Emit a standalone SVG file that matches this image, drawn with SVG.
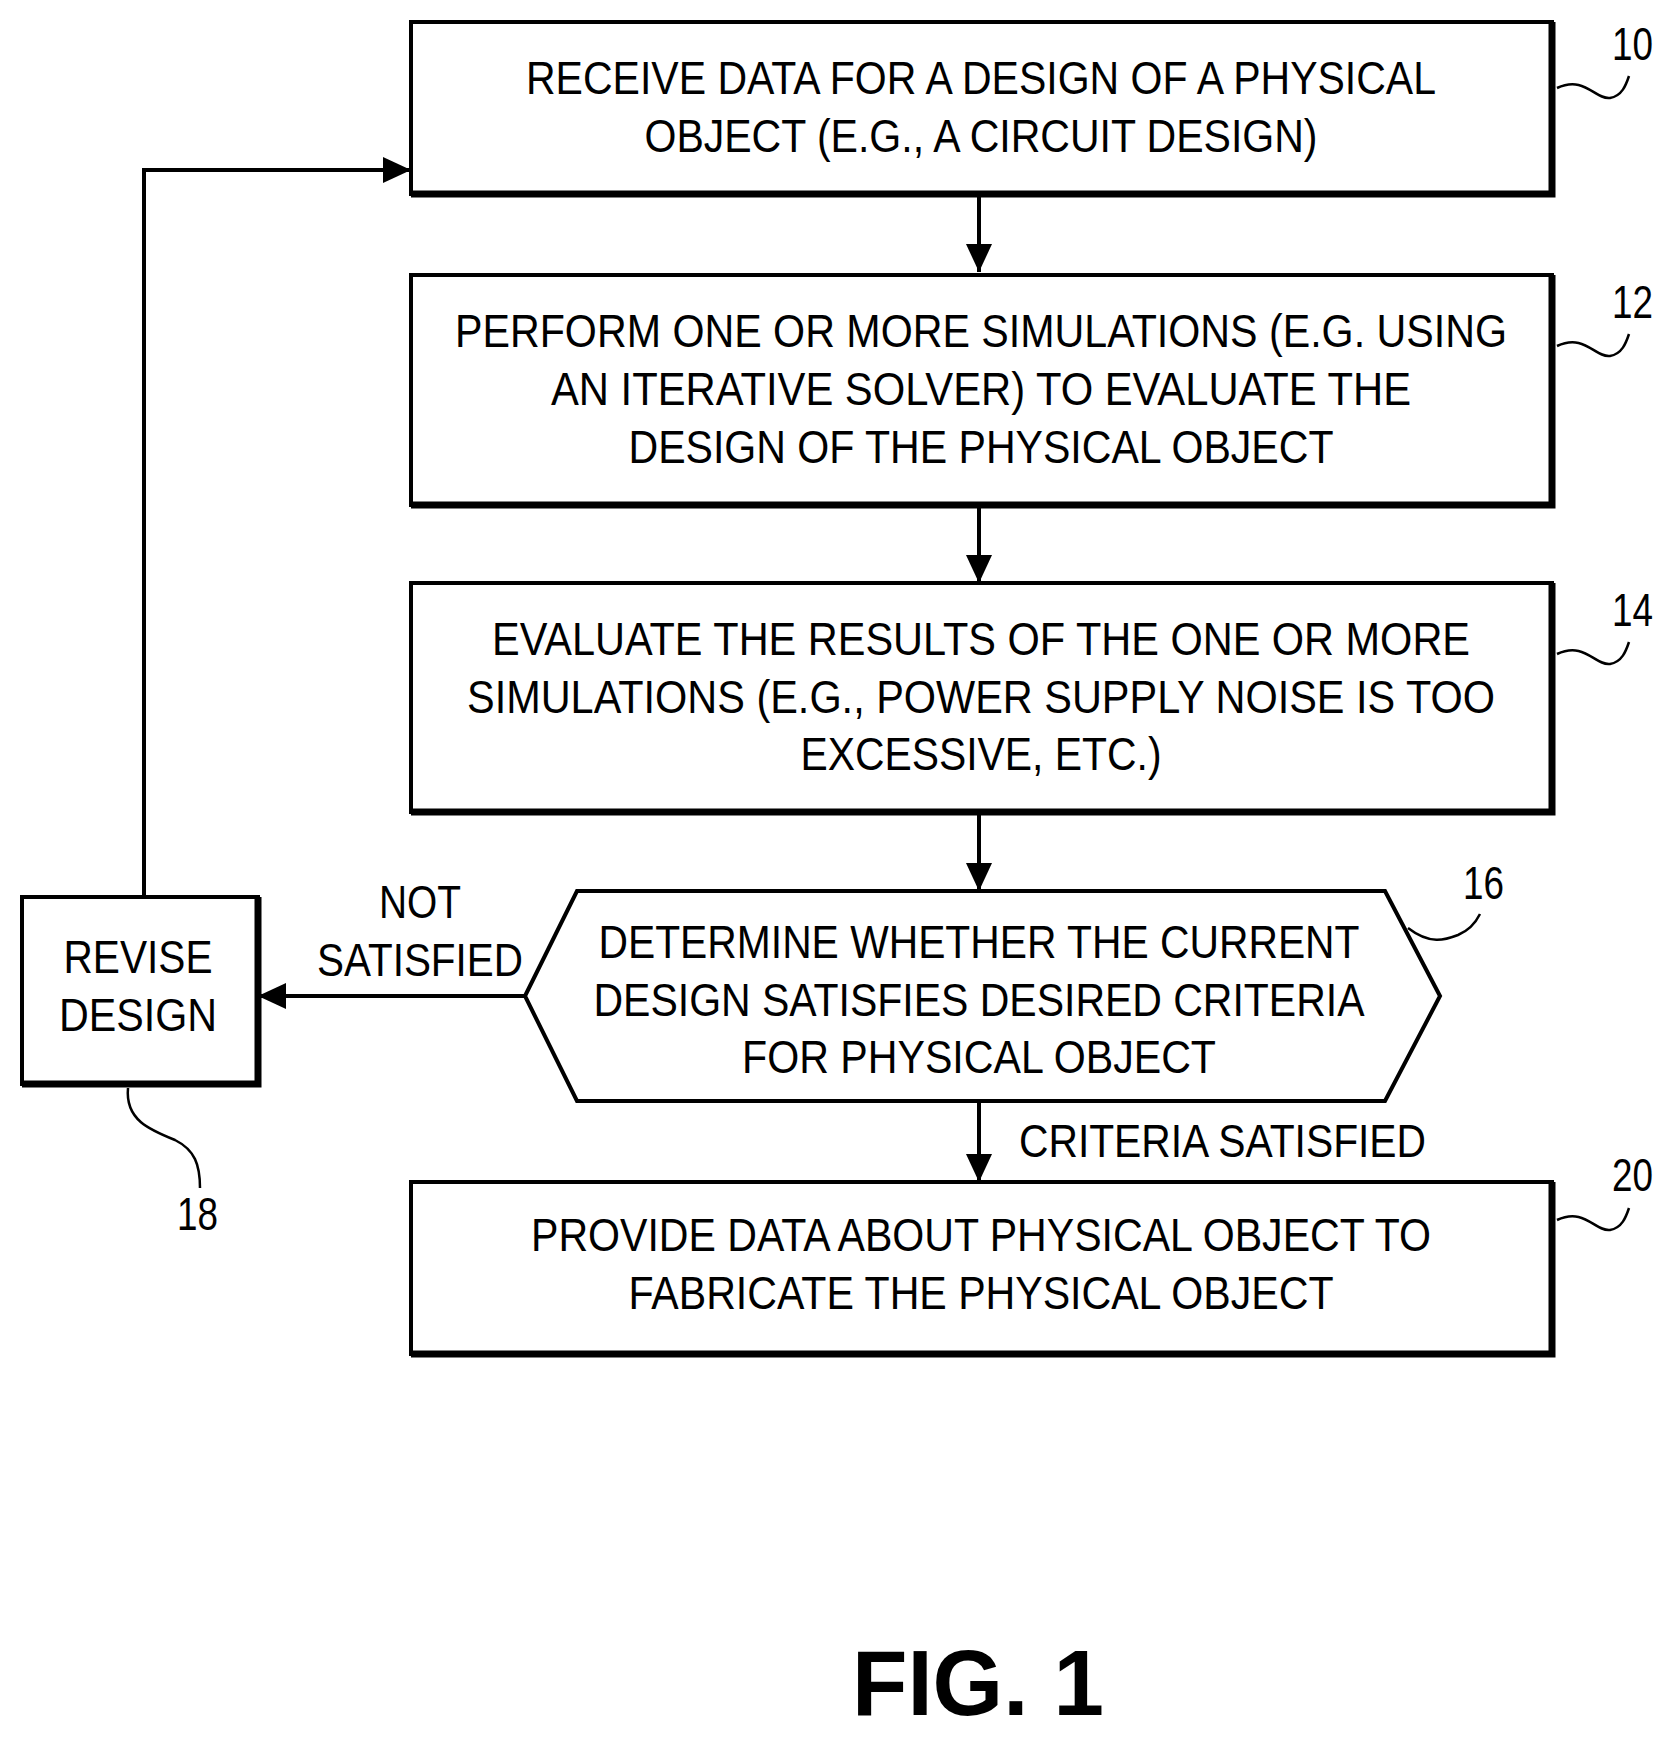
<svg xmlns="http://www.w3.org/2000/svg" width="1674" height="1741" viewBox="0 0 1674 1741">
<style>
.b{fill:#fff;stroke:#000;stroke-width:4}
.sh{fill:none;stroke:#000;stroke-width:7}
.t{font-family:"Liberation Sans",Arial,sans-serif;font-size:47px;fill:#000;text-anchor:middle}
.n{font-family:"Liberation Sans",Arial,sans-serif;font-size:46px;fill:#000}
.c{fill:none;stroke:#000;stroke-width:4}
.q{fill:none;stroke:#000;stroke-width:2.5}
</style>
<defs><marker id="a" markerWidth="8" markerHeight="8" refX="7" refY="4" orient="auto" markerUnits="userSpaceOnUse" viewBox="0 0 8 8"><path d="M0,0 L8,4 L0,8z"/></marker>
<marker id="ah" markerWidth="28" markerHeight="26" refX="28" refY="13" orient="auto" markerUnits="userSpaceOnUse"><path d="M0,0 L28,13 L0,26z" fill="#000"/></marker></defs>
<g id="n10"><rect class="b" x="411" y="22" width="1141" height="172"/><path class="sh" d="M1552,22 V194 H411"/>
<text class="t" x="981" y="94" textLength="910" lengthAdjust="spacingAndGlyphs">RECEIVE DATA FOR A DESIGN OF A PHYSICAL</text>
<text class="t" x="981" y="152" textLength="673" lengthAdjust="spacingAndGlyphs">OBJECT (E.G., A CIRCUIT DESIGN)</text>
<text class="n" x="1612" y="60" textLength="41" lengthAdjust="spacingAndGlyphs">10</text>
<path class="q" d="M1557,88 C1585,75 1595,100 1610,98 C1622,96 1626,85 1629,76"/></g>
<g id="n12"><rect class="b" x="411" y="275" width="1141" height="230"/><path class="sh" d="M1552,275 V505 H411"/>
<text class="t" x="981" y="347" textLength="1052" lengthAdjust="spacingAndGlyphs">PERFORM ONE OR MORE SIMULATIONS (E.G. USING</text>
<text class="t" x="981" y="405" textLength="860" lengthAdjust="spacingAndGlyphs">AN ITERATIVE SOLVER) TO EVALUATE THE</text>
<text class="t" x="981" y="463" textLength="705" lengthAdjust="spacingAndGlyphs">DESIGN OF THE PHYSICAL OBJECT</text>
<text class="n" x="1612" y="318" textLength="41" lengthAdjust="spacingAndGlyphs">12</text>
<path class="q" d="M1557,346 C1585,333 1595,358 1610,356 C1622,354 1626,343 1629,334"/></g>
<g id="n14"><rect class="b" x="411" y="583" width="1141" height="229"/><path class="sh" d="M1552,583 V812 H411"/>
<text class="t" x="981" y="655" textLength="978" lengthAdjust="spacingAndGlyphs">EVALUATE THE RESULTS OF THE ONE OR MORE</text>
<text class="t" x="981" y="713" textLength="1028" lengthAdjust="spacingAndGlyphs">SIMULATIONS (E.G., POWER SUPPLY NOISE IS TOO</text>
<text class="t" x="981" y="770" textLength="361" lengthAdjust="spacingAndGlyphs">EXCESSIVE, ETC.)</text>
<text class="n" x="1612" y="626" textLength="41" lengthAdjust="spacingAndGlyphs">14</text>
<path class="q" d="M1557,654 C1585,641 1595,666 1610,664 C1622,662 1626,651 1629,642"/></g>
<g id="n16"><path class="b" stroke-width="5" d="M525,996 L577,891 H1385 L1440,996 L1385,1101 H577 Z"/>
<text class="t" x="979" y="958" textLength="761" lengthAdjust="spacingAndGlyphs">DETERMINE WHETHER THE CURRENT</text>
<text class="t" x="979" y="1016" textLength="771" lengthAdjust="spacingAndGlyphs">DESIGN SATISFIES DESIRED CRITERIA</text>
<text class="t" x="979" y="1073" textLength="474" lengthAdjust="spacingAndGlyphs">FOR PHYSICAL OBJECT</text>
<text class="n" x="1463" y="899" textLength="41" lengthAdjust="spacingAndGlyphs">16</text>
<path class="q" d="M1408,928 C1430,945 1445,940 1458,935 C1470,930 1476,922 1480,914"/></g>
<g id="n18"><rect class="b" x="22" y="897" width="236" height="187"/><path class="sh" d="M258,897 V1084 H22"/>
<text class="t" x="138" y="973" textLength="149" lengthAdjust="spacingAndGlyphs">REVISE</text>
<text class="t" x="138" y="1031" textLength="158" lengthAdjust="spacingAndGlyphs">DESIGN</text>
<text class="n" x="177" y="1230" textLength="41" lengthAdjust="spacingAndGlyphs">18</text>
<path class="q" d="M128,1088 C125,1120 150,1130 175,1140 C195,1150 200,1165 200,1188"/></g>
<g id="n20"><rect class="b" x="411" y="1182" width="1141" height="172"/><path class="sh" d="M1552,1182 V1354 H411"/>
<text class="t" x="981" y="1251" textLength="900" lengthAdjust="spacingAndGlyphs">PROVIDE DATA ABOUT PHYSICAL OBJECT TO</text>
<text class="t" x="981" y="1309" textLength="705" lengthAdjust="spacingAndGlyphs">FABRICATE THE PHYSICAL OBJECT</text>
<text class="n" x="1612" y="1191" textLength="41" lengthAdjust="spacingAndGlyphs">20</text>
<path class="q" d="M1557,1220 C1585,1207 1595,1232 1610,1230 C1622,1228 1626,1217 1629,1208"/></g>
<g id="connectors">
<path class="c" d="M979,196 V272" marker-end="url(#ah)"/>
<path class="c" d="M979,507 V583" marker-end="url(#ah)"/>
<path class="c" d="M979,814 V891" marker-end="url(#ah)"/>
<path class="c" d="M979,1103 V1182" marker-end="url(#ah)"/>
<path class="c" d="M525,996 H258" marker-end="url(#ah)"/>
<path class="c" d="M144,897 V170 H411" marker-end="url(#ah)"/>
<text class="n" x="420" y="918" text-anchor="middle" textLength="82" lengthAdjust="spacingAndGlyphs">NOT</text>
<text class="n" x="420" y="976" text-anchor="middle" textLength="206" lengthAdjust="spacingAndGlyphs">SATISFIED</text>
<text class="n" x="1019" y="1157" textLength="407" lengthAdjust="spacingAndGlyphs">CRITERIA SATISFIED</text>
</g>
<text x="978" y="1715" text-anchor="middle" font-family="Liberation Sans,Arial,sans-serif" font-weight="bold" font-size="93" textLength="252" lengthAdjust="spacingAndGlyphs">FIG. 1</text>
</svg>
